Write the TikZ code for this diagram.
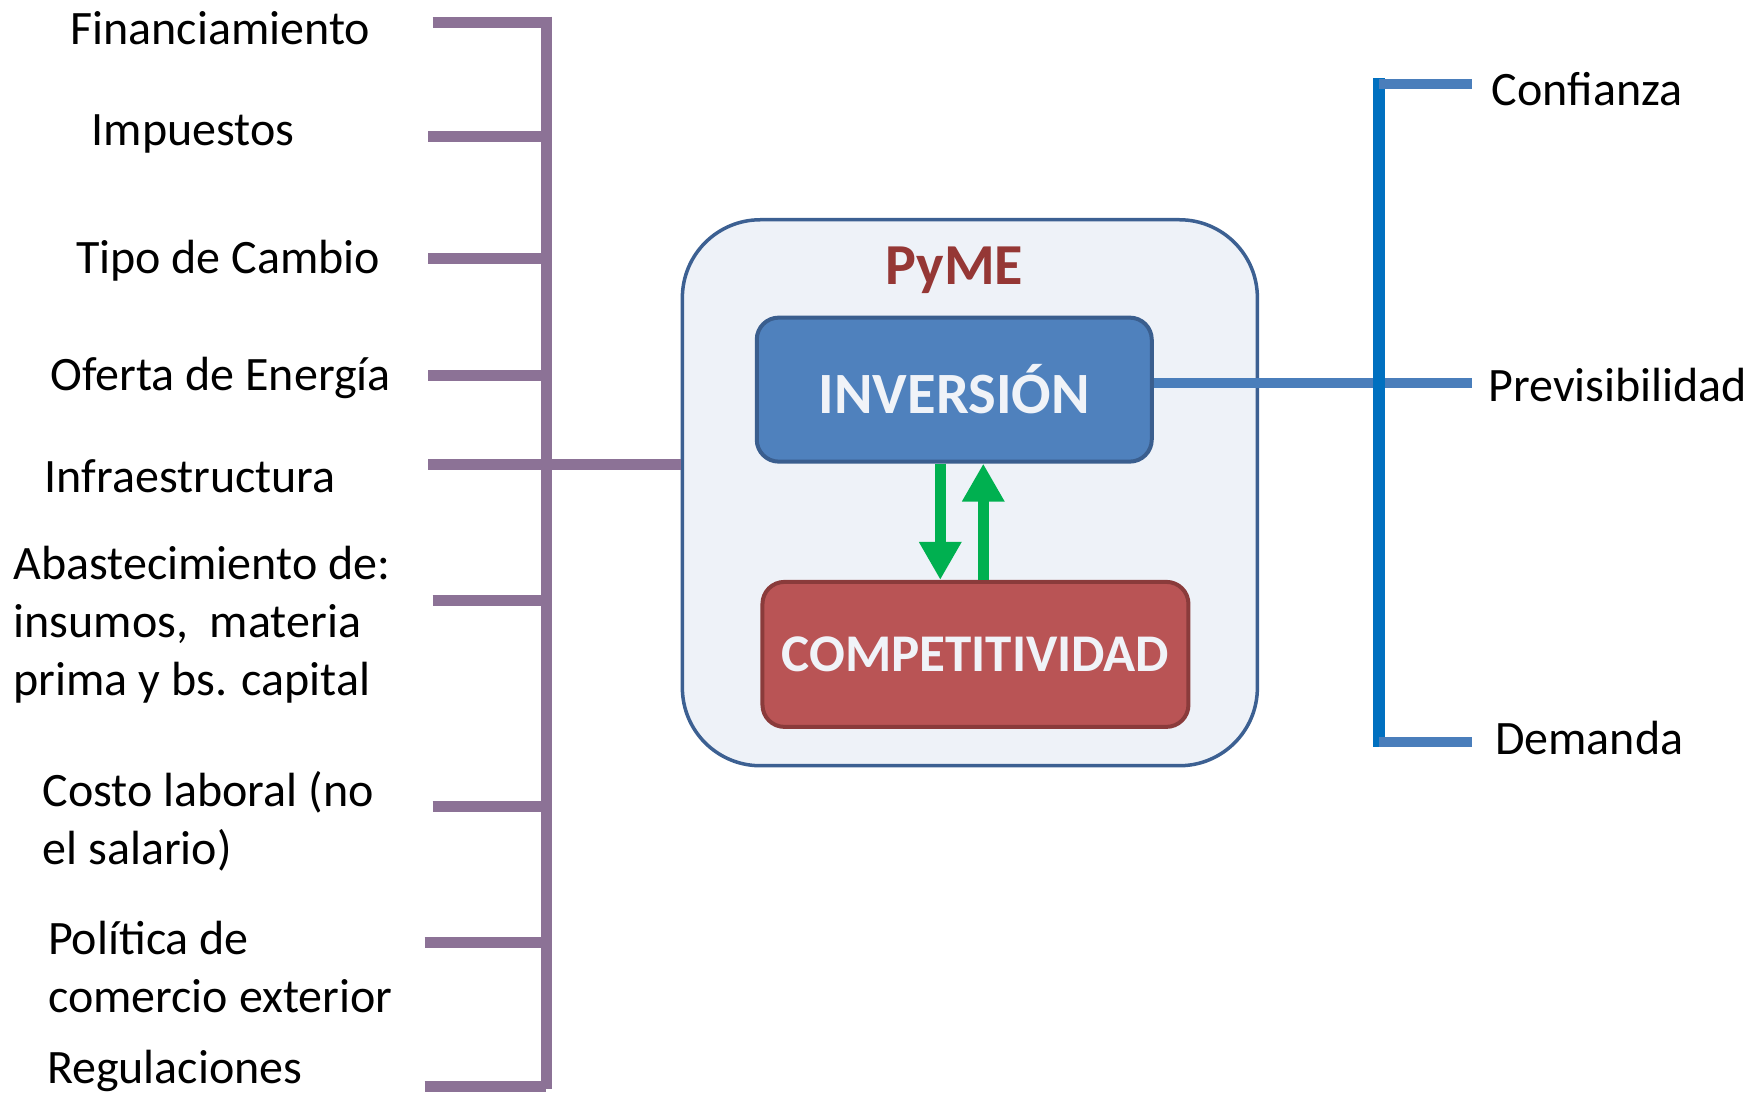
\documentclass[tikz,border=0pt]{standalone}
\usepackage{fontspec}
\setmainfont{Carlito}
\usetikzlibrary{arrows.meta,positioning}

\definecolor{lila}{RGB}{140,114,150}
\definecolor{azulcaja}{RGB}{79,129,189}
\definecolor{azulborde}{RGB}{58,94,142}
\definecolor{rojocaja}{RGB}{185,84,85}
\definecolor{rojoborde}{RGB}{138,59,59}
\definecolor{fondo}{RGB}{238,242,248}
\definecolor{marco}{RGB}{60,96,146}
\definecolor{verde}{RGB}{0,176,80}
\definecolor{granate}{RGB}{149,55,53}
\definecolor{azuleje}{RGB}{0,112,192}
\definecolor{azulrama}{RGB}{74,126,187}
\definecolor{blanco}{RGB}{240,243,248}

\tikzset{
  etiqueta/.style={anchor=west, inner sep=0pt, align=left, font=\fontsize{48}{58}\selectfont},
  ramaizq/.style={draw=lila, line width=11pt},
  ramader/.style={draw=azulrama, line width=10pt},
  ejeazul/.style={draw=azuleje, line width=12pt},
  caja/.style={rounded corners=22pt, line width=4pt, text=blanco},
  flecha/.style={draw=verde, line width=11pt, -{Triangle[width=40pt,length=38pt]}}
}

\begin{document}
\begin{tikzpicture}[x=1.1148pt,y=-1.1148pt]
\useasboundingbox (0,0) rectangle (1568,982);

\node[draw=marco, fill=fondo, line width=3.5pt, rounded corners=78pt,
  minimum width=575pt, minimum height=546pt] (pyme) at (870,442) {};
\node[text=granate, font=\fontsize{58}{60}\selectfont\bfseries] (tit) at (856,242) {PyME};
\node[caja, draw=azulborde, fill=azulcaja, minimum width=395pt, minimum height=144pt,
  font=\fontsize{58.5}{60}\selectfont\bfseries] (inv) at (856,349.5) {INVERSIÓN};
\node[caja, draw=rojoborde, fill=rojocaja, minimum width=426pt, minimum height=145pt,
  font=\fontsize{53}{60}\selectfont\bfseries] (comp) at (875,587) {COMPETITIVIDAD};

\draw[flecha] ([xshift=-14pt]inv.south) -- ([xshift=-14pt]inv.south |- comp.north);
\draw[flecha] ([xshift=29pt]inv.south |- comp.north) -- ([xshift=29pt]inv.south);

\node[etiqueta] (l1) at (63,25) {Financiamiento};
\node[etiqueta] (l2) at (82,120) {Impuestos};
\node[etiqueta] (l3) at (68,234) {Tipo de Cambio};
\node[etiqueta] (l4) at (45,339) {Oferta de Energía};
\node[etiqueta] (l5) at (40,427) {Infraestructura};
\node[etiqueta] (l6) at (12,560) {Abastecimiento de:\\insumos,\ \ materia\\prima y bs. capital};
\node[etiqueta] (l7) at (38,737) {Costo laboral (no\\el salario)};
\node[etiqueta] (l8) at (43,867) {Política de\\comercio exterior};
\node[etiqueta] (l9) at (42,961) {Regulaciones};

\coordinate (ejesup) at (490,15);
\coordinate (ejeinf) at (490,977);
\coordinate (f1) at (388,20);
\coordinate (f2) at (384,122);
\coordinate (f3) at (384,232);
\coordinate (f4) at (384,337);
\coordinate (f5) at (384,417);
\coordinate (f6) at (388,539);
\coordinate (f7) at (388,723);
\coordinate (f8) at (381,845);
\coordinate (f9) at (381,975);

\draw[ramaizq] (ejesup) -- (ejeinf);
\draw[ramaizq] (f1) -- (f1 -| ejesup);
\draw[ramaizq] (f2) -- (f2 -| ejesup);
\draw[ramaizq] (f3) -- (f3 -| ejesup);
\draw[ramaizq] (f4) -- (f4 -| ejesup);
\draw[ramaizq] (f5) -- (f5 -| pyme.west);
\draw[ramaizq] (f6) -- (f6 -| ejesup);
\draw[ramaizq] (f7) -- (f7 -| ejesup);
\draw[ramaizq] (f8) -- (f8 -| ejesup);
\draw[ramaizq] (f9) -- (f9 -| ejesup);

\node[etiqueta] (r1) at (1338,80) {Confianza};
\node[etiqueta] (r2) at (1335,345) {Previsibilidad};
\node[etiqueta] (r3) at (1341,662) {Demanda};

\coordinate (dsup) at (1237,70);
\coordinate (dinf) at (1237,670);
\coordinate (d1) at (1320,75);
\coordinate (d2) at (1320,344);
\coordinate (d3) at (1320,666);

\draw[ramader] (inv.east |- d2) -- (d2);
\draw[ejeazul] (dsup) -- (dinf);
\draw[ramader] (d1 -| dsup) -- (d1);
\draw[ramader] (d3 -| dsup) -- (d3);
\end{tikzpicture}
\end{document}
